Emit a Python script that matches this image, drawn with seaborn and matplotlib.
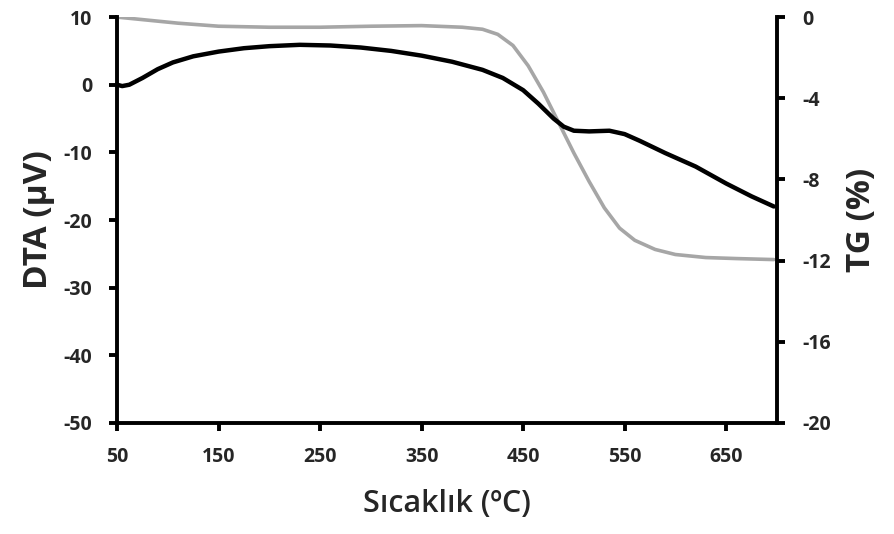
import matplotlib
matplotlib.use("Agg")
import matplotlib.pyplot as plt
import seaborn as sns
import pandas as pd

# DTA curve (left axis, µV)
dta_temp = [50, 55, 62, 75, 90, 105, 125, 150, 175, 200, 230, 260, 290, 320, 350,
            380, 410, 430, 450, 465, 480, 490, 500, 515, 535, 550, 565, 590, 620, 650, 675, 697]
dta_val = [0.0, -0.2, 0.0, 1.0, 2.3, 3.3, 4.2, 4.9, 5.4, 5.7, 5.9, 5.8, 5.5, 5.0, 4.3,
           3.4, 2.2, 1.0, -0.8, -2.8, -5.0, -6.2, -6.8, -6.9, -6.8, -7.3, -8.3, -10.1, -12.1, -14.6, -16.5, -18.0]

# TG curve (right axis, %)
tg_temp = [50, 80, 110, 150, 200, 250, 300, 350, 390, 410, 425, 440, 455, 470, 485,
           500, 515, 530, 545, 560, 580, 600, 630, 660, 697]
tg_val = [0.0, -0.15, -0.3, -0.45, -0.5, -0.5, -0.45, -0.42, -0.5, -0.6, -0.85, -1.4, -2.4, -3.7, -5.2,
          -6.7, -8.1, -9.4, -10.4, -11.0, -11.45, -11.7, -11.85, -11.9, -11.95]

x_ticks = [50, 150, 250, 350, 450, 550, 650]
dta_ticks = [10, 0, -10, -20, -30, -40, -50]
tg_ticks = [0, -4, -8, -12, -16, -20]

sns.set_style("white")
plt.rcParams['font.family'] = ['Open Sans', 'DejaVu Sans']
plt.rcParams['axes.unicode_minus'] = False

fig = plt.figure(figsize=(8.94, 5.34), dpi=100)
ax = fig.add_axes([0.131, 0.208, 0.738, 0.760])
ax2 = ax.twinx()

df_dta = pd.DataFrame({"T": dta_temp, "DTA": dta_val})
df_tg = pd.DataFrame({"T": tg_temp, "TG": tg_val})

sns.lineplot(data=df_tg, x="T", y="TG", ax=ax2, color="#a6a6a6", linewidth=2.6)
sns.lineplot(data=df_dta, x="T", y="DTA", ax=ax, color="black", linewidth=3.2)
ax.set_zorder(ax2.get_zorder() + 1)
ax.patch.set_visible(False)

ax.set_xlim(50, 700)
ax.set_ylim(-50, 10)
ax2.set_ylim(-20, 0)
ax.set_xticks(x_ticks)
ax.set_yticks(dta_ticks)
ax2.set_yticks(tg_ticks)

for a in (ax, ax2):
    for s in a.spines.values():
        s.set_linewidth(2.8)
        s.set_color("black")
    a.spines["top"].set_visible(False)
ax.spines["right"].set_visible(False)
ax2.spines["left"].set_visible(False)
ax2.spines["bottom"].set_visible(False)

ax.tick_params(axis="both", direction="out", length=6, width=2.8, color="black",
               labelsize=14, bottom=True, left=True)
ax.tick_params(axis="x", pad=11)
ax.tick_params(axis="y", pad=12)
ax2.tick_params(axis="y", direction="out", length=6, width=2.8, color="black",
                labelsize=14, pad=12, right=True)
for lab in ax.get_xticklabels() + ax.get_yticklabels() + ax2.get_yticklabels():
    lab.set_fontweight("bold")

ax.set_xlabel("Sıcaklık (ºC)", fontsize=22, fontweight="semibold", labelpad=16)
ax.set_ylabel("DTA (µV)", fontsize=24, fontweight="bold", labelpad=6)
ax2.set_ylabel("TG (%)", fontsize=24, fontweight="bold", labelpad=10)

fig.savefig("out.png", dpi=100)
